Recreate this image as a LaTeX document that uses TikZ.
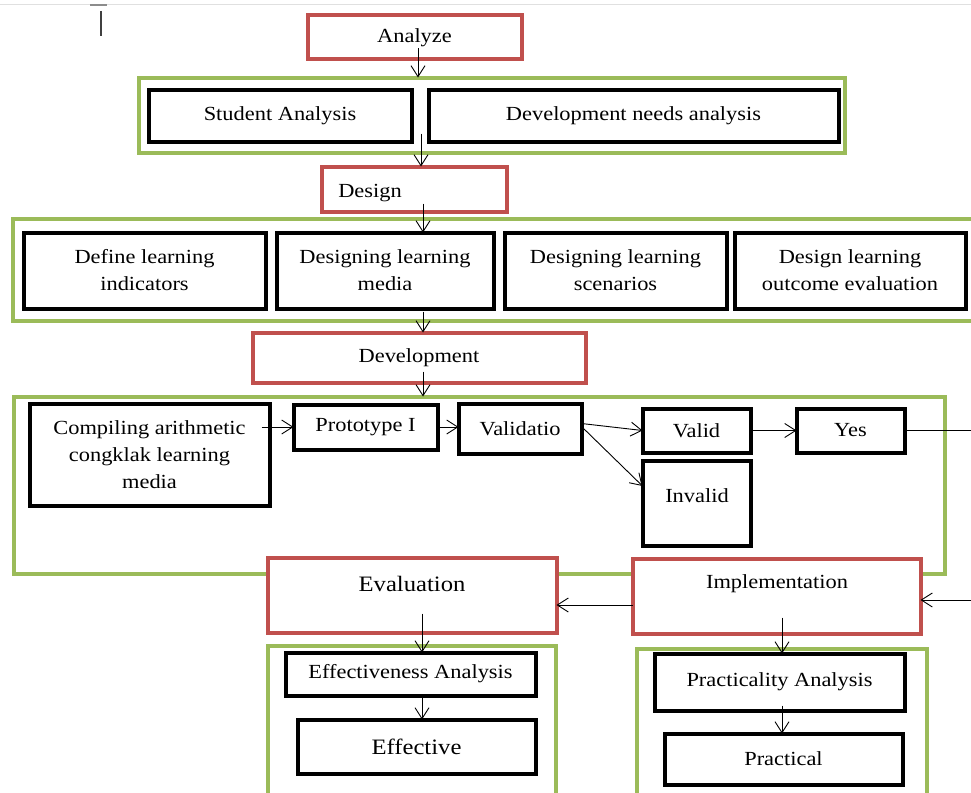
\documentclass[tikz,border=0pt]{standalone}
\usepackage{fontspec}
\setmainfont[FakeStretch=1.12]{Liberation Serif}
\usetikzlibrary{arrows.meta}
\definecolor{boxred}{RGB}{192,80,77}
\definecolor{boxgreen}{RGB}{155,187,89}
\newcommand\pbox[7]{\node[#2, minimum width={#5-#3-3}, minimum height={#6-#4-3}] (#1) at ({(#3+#5)/2},{(#4+#6)/2}) {#7};}
\begin{document}
\begin{tikzpicture}[x=1pt,y=-1pt,
  every node/.style={inner sep=0pt, outer sep=0pt, font=\fontsize{20}{27}\selectfont, align=center},
  redbox/.style={draw=boxred, line width=4pt, fill=white},
  greenbox/.style={draw=boxgreen, line width=4pt},
  blackbox/.style={draw=black, line width=4pt, fill=white},
  lbl/.style={},
  bigtext/.style={font=\fontsize{22}{27}\selectfont},
  arr/.style={draw=black, line width=0.9pt, -{Straight Barb[length=11pt,width=14pt,line width=0.9pt]}}]
\useasboundingbox (0,0) rectangle (971,792);
\clip (0,0) rectangle (971,792);
% page artifacts
\draw[black!12, line width=1pt] (0,5) -- (971,5);
\draw[black!45, line width=1.5pt] (90,5) -- (107,5);
\draw[black!75, line width=1.5pt] (101,11) -- (101,36);
% green frames
\pbox{g1}{greenbox}{137}{76}{846}{154}{}
\pbox{g2}{greenbox}{11}{217}{990}{322}{}
\pbox{g3}{greenbox}{12}{395}{946}{575}{}
\pbox{g4}{greenbox}{266}{644}{557}{830}{}
\pbox{g5}{greenbox}{635}{647}{928}{830}{}
% red phase boxes
\pbox{an}{redbox}{306}{14}{523}{61}{Analyze}
\pbox{de}{redbox}{320}{165}{508}{213}{}
\node[lbl] (det) at (370,193) {Design};
\pbox{dv}{redbox}{251}{331}{587}{384}{Development}
\pbox{ev}{redbox}{266}{556}{558}{634}{}
\node[lbl,bigtext] (evt) at (412,584) {Evaluation};
\pbox{im}{redbox}{631}{557}{922}{635}{}
\node[lbl] (imt) at (777,584) {Implementation};
% black boxes
\pbox{sa}{blackbox}{147}{88}{413}{143}{Student Analysis}
\pbox{dn}{blackbox}{427}{88}{840}{143}{Development needs analysis}
\pbox{d1}{blackbox}{22}{231}{267}{310}{Define learning\\indicators}
\pbox{d2}{blackbox}{275}{231}{495}{310}{Designing learning\\media}
\pbox{d3}{blackbox}{503}{231}{728}{310}{Designing learning\\scenarios}
\pbox{d4}{blackbox}{733}{231}{967}{310}{Design learning\\outcome evaluation}
\pbox{cp}{blackbox}{28}{402}{271}{507}{Compiling arithmetic\\congklak learning\\media}
\pbox{pr}{blackbox}{292}{403}{439}{451}{Prototype I}
\pbox{va}{blackbox}{457}{402}{583}{455}{Validatio}
\pbox{vl}{blackbox}{641}{407}{752}{454}{Valid}
\pbox{iv}{blackbox}{641}{459}{752}{547}{}
\node[lbl] (ivt) at (697,496) {Invalid};
\pbox{ys}{blackbox}{795}{407}{906}{454}{Yes}
\pbox{ea}{blackbox}{284}{651}{537}{697}{Effectiveness Analysis}
\pbox{ef}{blackbox,bigtext}{296}{718}{537}{775}{Effective}
\pbox{pa}{blackbox}{653}{652}{906}{712}{Practicality Analysis}
\pbox{pc}{blackbox}{663}{732}{904}{786}{Practical}
% connectors
\coordinate (c1) at ([xshift=3.5pt,yshift=11pt]an.south);
\draw[arr] (c1) -- (c1 |- g1.north);
\coordinate (c2) at ([xshift=-70.5pt,yshift=19pt]g1.south);
\draw[arr] (c2) -- (c2 |- de.north);
\coordinate (c3) at ([xshift=9pt,yshift=8pt]de.south);
\draw[arr] (c3) -- (c3 |- d2.north);
\coordinate (c4) at ([xshift=-77.5pt,yshift=9pt]g2.south);
\draw[arr] (c4) -- (c4 |- dv.north);
\coordinate (c5) at ([xshift=4pt,yshift=11pt]dv.south);
\draw[arr] (c5) -- (c5 |- g3.north);
\coordinate (c6) at (cp.east |- pr.west);
\draw[arr] ([xshift=-8pt]c6) -- (pr.west);
\draw[arr] (pr.east) -- (pr.east -| va.west);
\draw[arr] ([yshift=5pt]va.east) -- (vl.west);
\draw[arr] ([yshift=2pt]va.east) -- ([yshift=17pt]iv.west);
\draw[arr] (vl.east) -- (ys.west);
\draw[arr] (ys.east) -- ([xshift=100pt]ys.east) |- ([yshift=-4pt]im.east);
\coordinate (c12) at ([yshift=-9pt]im.west);
\draw[arr] (c12) -- (c12 -| ev.east);
\coordinate (c13) at ([xshift=10pt,yshift=19pt]ev.south);
\draw[arr] (c13) -- (c13 |- ea.north);
\coordinate (c14) at ([xshift=11.5pt]ea.south);
\draw[arr] (c14) -- (c14 |- ef.north);
\coordinate (c15) at ([xshift=5.5pt,yshift=16pt]im.south);
\draw[arr] (c15) -- (c15 |- pa.north);
\coordinate (c16) at ([xshift=2.5pt,yshift=5pt]pa.south);
\draw[arr] (c16) -- (c16 |- pc.north);
\end{tikzpicture}
\end{document}
